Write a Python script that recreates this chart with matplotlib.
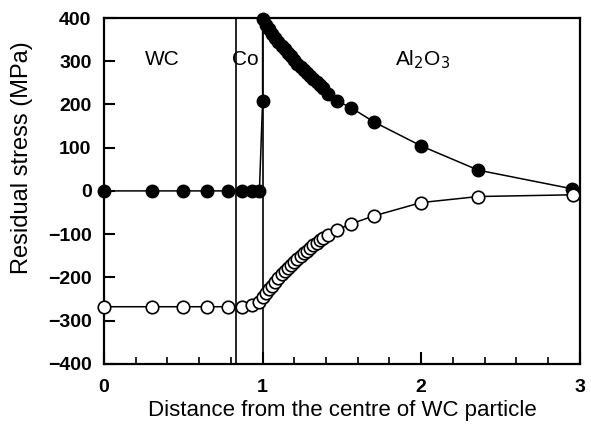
import matplotlib
matplotlib.use("Agg")
import matplotlib.pyplot as plt
from matplotlib.ticker import MultipleLocator

plt.rcParams['font.family'] = ['Liberation Sans', 'DejaVu Sans']

# Tensile (filled) series
x_filled = [0.0, 0.3, 0.5, 0.65, 0.78, 0.87, 0.93, 0.98, 1.00,
            1.00, 1.02, 1.04, 1.06, 1.08, 1.10, 1.12, 1.14, 1.16, 1.18, 1.20,
            1.22, 1.24, 1.26, 1.28, 1.30, 1.32, 1.34, 1.36, 1.38,
            1.41, 1.47, 1.56, 1.70, 2.00, 2.36, 2.95]
y_filled = [0, 0, 0, 0, 0, 0, 0, 0, 208,
            398, 385, 374, 364, 354, 345, 336, 328, 320, 312, 302,
            294, 286, 279, 272, 265, 258, 251, 244, 237,
            224, 208, 192, 160, 104, 48, 5]

# Compressive (open) series
x_open = [0.0, 0.3, 0.5, 0.65, 0.78, 0.87, 0.93, 0.98,
          1.00, 1.02, 1.04, 1.06, 1.08, 1.10, 1.12, 1.14, 1.16, 1.18, 1.20,
          1.22, 1.24, 1.26, 1.28, 1.30, 1.32, 1.34, 1.36, 1.38,
          1.41, 1.47, 1.56, 1.70, 2.00, 2.36, 2.96]
y_open = [-268, -268, -268, -268, -268, -268, -264, -256,
          -246, -237, -228, -219, -210, -201, -193, -185, -178, -171, -164,
          -157, -150, -144, -138, -132, -126, -120, -114, -108,
          -101, -90, -76, -58, -27, -13, -9]

boundaries = [0.83, 1.0]
region_labels = ["WC", "Co", "Al$_2$O$_3$"]
region_x = [0.37, 0.89, 2.01]

fig = plt.figure(figsize=(5.91, 4.29), dpi=100)
ax = fig.add_axes([0.176, 0.152, 0.805, 0.806])

for b in boundaries:
    ax.axvline(b, color='black', lw=1.2, zorder=1)

ax.plot(x_filled, y_filled, '-o', color='black', lw=1.1, ms=9,
        mfc='black', mec='black', mew=1.0, clip_on=False, zorder=3)
ax.plot(x_open, y_open, '-o', color='black', lw=1.1, ms=9,
        mfc='white', mec='black', mew=1.2, clip_on=False, zorder=3)

for lab, xp in zip(region_labels, region_x):
    ax.text(xp, 303, lab, ha='center', va='center', fontsize=15)

ax.set_xlim(0, 3)
ax.set_ylim(-400, 400)
ax.xaxis.set_major_locator(MultipleLocator(1))
ax.xaxis.set_minor_locator(MultipleLocator(0.2))

ax.tick_params(axis='x', which='major', direction='in', length=9, width=1.5,
               pad=11, labelsize=14, top=False)
ax.tick_params(axis='x', which='minor', direction='in', length=5, width=1.2,
               top=False)
ax.tick_params(axis='y', which='major', direction='in', length=8, width=1.5,
               pad=9, labelsize=14, right=False)

yt = [-400, -300, -200, -100, 0, 100, 200, 300, 400]
ax.set_yticks(yt)
ax.set_yticklabels(['\u2212400', '\u2212300', '\u2212200', '\u2212100', '0',
                    '100', '200', '300', '400'])
for lab in ax.get_xticklabels() + ax.get_yticklabels():
    lab.set_fontweight('bold')

for s in ax.spines.values():
    s.set_linewidth(1.6)

ax.set_xlabel('Distance from the centre of WC particle', fontsize=16, labelpad=3)
ax.set_ylabel('Residual stress (MPa)', fontsize=17)
ax.yaxis.set_label_coords(-0.15, 0.595)

fig.savefig('out.png', dpi=100)
